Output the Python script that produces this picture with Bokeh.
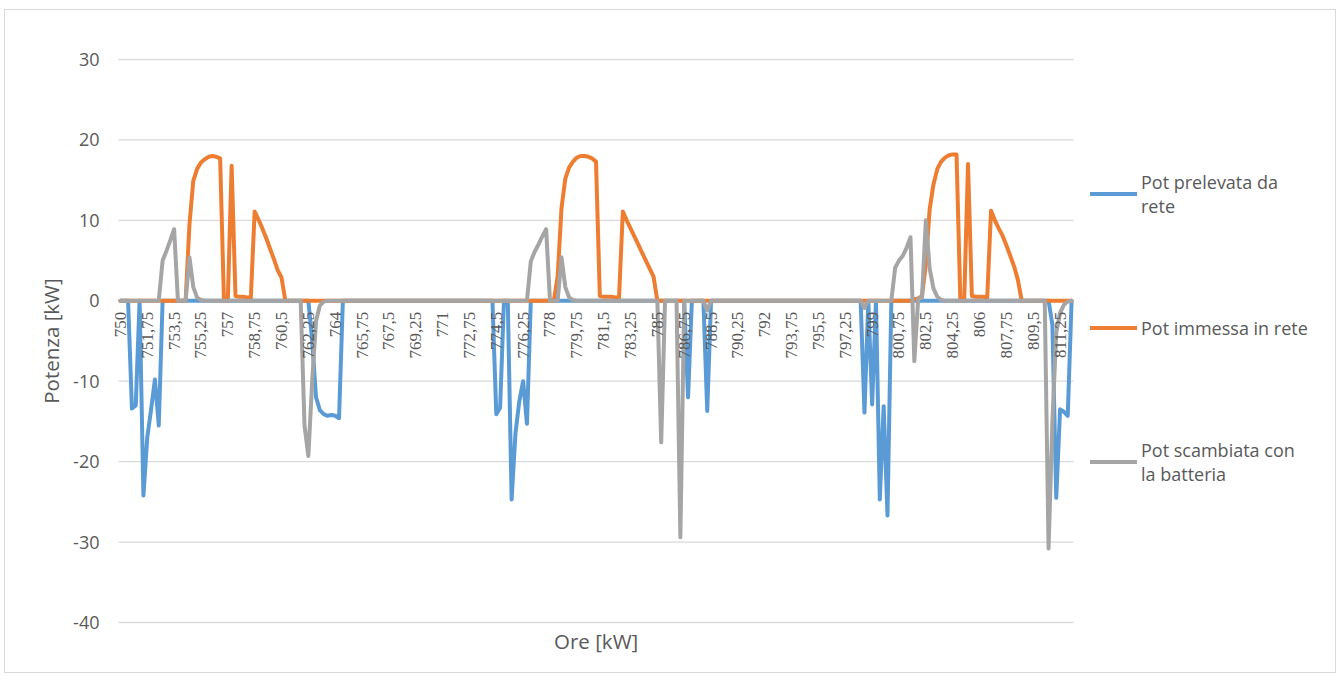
import math
from bokeh.plotting import figure
from bokeh.models import ColumnDataSource, FixedTicker, Range1d, Legend, LegendItem, LabelSet, Title
from bokeh.embed import file_html
from bokeh.resources import INLINE

# ---------------- data ----------------
START_HOUR = 750
STEP = 0.25
N_POINTS = 249
ore = [START_HOUR + STEP * k for k in range(N_POINTS)]  # category axis: 750 ... 812

tick_labels = ["750", "751,75", "753,5", "755,25", "757", "758,75", "760,5", "762,25",
               "764", "765,75", "767,5", "769,25", "771", "772,75", "774,5", "776,25",
               "778", "779,75", "781,5", "783,25", "785", "786,75", "788,5", "790,25",
               "792", "793,75", "795,5", "797,25", "799", "800,75", "802,5", "804,25",
               "806", "807,75", "809,5", "811,25"]
y_ticks = [-40, -30, -20, -10, 0, 10, 20, 30]

series_names = ["Pot prelevata da\nrete", "Pot immessa in rete", "Pot scambiata con\nla batteria"]
x_title = "Ore [kW]"
y_title = "Potenza [kW]"

pot_prelevata = [
    0, 0, 0, -13.4, -13.0, 0, -24.2, -17.0, -13.5, -9.8, -15.5, 0,
    0, 0, 0, 0, 0, 0, 0, 0, 0, 0, 0, 0,
    0, 0, 0, 0, 0, 0, 0, 0, 0, 0, 0, 0,
    0, 0, 0, 0, 0, 0, 0, 0, 0, 0, 0, 0,
    0, 0, -5.0, -12.0, -13.6, -14.1, -14.3, -14.2, -14.3, -14.6, 0, 0,
    0, 0, 0, 0, 0, 0, 0, 0, 0, 0, 0, 0,
    0, 0, 0, 0, 0, 0, 0, 0, 0, 0, 0, 0,
    0, 0, 0, 0, 0, 0, 0, 0, 0, 0, 0, 0,
    0, 0, -14.1, -13.3, 0, 0, -24.7, -16.5, -12.5, -10.0, -15.3, 0,
    0, 0, 0, 0, 0, 0, 0, 0, 0, 0, 0, 0,
    0, 0, 0, 0, 0, 0, 0, 0, 0, 0, 0, 0,
    0, 0, 0, 0, 0, 0, 0, 0, 0, 0, 0, 0,
    0, 0, 0, 0, -12.0, 0, 0, 0, 0, -13.7, 0, 0,
    0, 0, 0, 0, 0, 0, 0, 0, 0, 0, 0, 0,
    0, 0, 0, 0, 0, 0, 0, 0, 0, 0, 0, 0,
    0, 0, 0, 0, 0, 0, 0, 0, 0, 0, 0, 0,
    0, 0, -13.9, 0, -12.9, 0, -24.7, -13.1, -26.7, 0, 0, 0,
    0, 0, 0, 0, 0, 0, 0, 0, 0, 0, 0, 0,
    0, 0, 0, 0, 0, 0, 0, 0, 0, 0, 0, 0,
    0, 0, 0, 0, 0, 0, 0, 0, 0, 0, 0, 0,
    0, 0, 0, -3.0, -24.5, -13.5, -13.8, -14.3, 0,
]

pot_immessa = [
    0, 0, 0, 0, 0, 0, 0, 0, 0, 0, 0, 0,
    0, 0, 0, 0, 0, 0, 9.5, 14.9, 16.4, 17.2, 17.6, 17.9,
    18.0, 17.9, 17.7, 0, 0, 16.8, 0.6, 0.5, 0.5, 0.4, 0.4, 11.1,
    10.1, 9.0, 7.8, 6.5, 5.2, 3.8, 2.9, 0, 0, 0, 0, 0,
    0, 0, 0, 0, 0, 0, 0, 0, 0, 0, 0, 0,
    0, 0, 0, 0, 0, 0, 0, 0, 0, 0, 0, 0,
    0, 0, 0, 0, 0, 0, 0, 0, 0, 0, 0, 0,
    0, 0, 0, 0, 0, 0, 0, 0, 0, 0, 0, 0,
    0, 0, 0, 0, 0, 0, 0, 0, 0, 0, 0, 0,
    0, 0, 0, 0, 0, 0, 3.0, 11.5, 15.2, 16.6, 17.3, 17.8,
    18.0, 18.0, 17.9, 17.7, 17.3, 0.6, 0.5, 0.5, 0.5, 0.4, 0.4, 11.1,
    10.0, 9.0, 8.0, 7.0, 6.0, 5.0, 4.0, 3.0, 0, 0, 0, 0,
    0, 0, 0, 0, 0, 0, 0, 0, 0, 0, 0, 0,
    0, 0, 0, 0, 0, 0, 0, 0, 0, 0, 0, 0,
    0, 0, 0, 0, 0, 0, 0, 0, 0, 0, 0, 0,
    0, 0, 0, 0, 0, 0, 0, 0, 0, 0, 0, 0,
    0, 0, 0, 0, 0, 0, 0, 0, 0, 0, 0, 0,
    0, 0, 0, 0.2, 0.3, 0.6, 4.5, 11.4, 14.5, 16.4, 17.3, 17.8,
    18.1, 18.2, 18.2, 0, 0, 17.0, 0.6, 0.5, 0.5, 0.5, 0.4, 11.2,
    10.0, 9.0, 8.1, 6.9, 5.6, 4.3, 2.6, 0, 0, 0, 0, 0,
    0, 0, 0, 0, 0, 0, 0, 0, 0,
]

pot_scambiata = [
    0, 0, 0, 0, 0, 0, 0, 0, 0, 0, 0, 5.0,
    6.2, 7.5, 8.9, 0, 0, 0, 5.4, 1.7, 0.4, 0.1, 0, 0,
    0, 0, 0, 0, 0, 0, 0, 0, 0, 0, 0, 0,
    0, 0, 0, 0, 0, 0, 0, 0, 0, 0, 0, 0,
    -15.5, -19.3, -10.0, -2.5, -0.6, -0.1, 0, 0, 0, 0, 0, 0,
    0, 0, 0, 0, 0, 0, 0, 0, 0, 0, 0, 0,
    0, 0, 0, 0, 0, 0, 0, 0, 0, 0, 0, 0,
    0, 0, 0, 0, 0, 0, 0, 0, 0, 0, 0, 0,
    0, 0, 0, 0, 0, 0, 0, 0, 0, 0, 0, 4.9,
    6.1, 7.0, 8.0, 8.9, 0, 0, 0, 5.4, 1.7, 0.4, 0.1, 0,
    0, 0, 0, 0, 0, 0, 0, 0, 0, 0, 0, 0,
    0, 0, 0, 0, 0, 0, 0, 0, 0, -17.6, 0, 0,
    0, 0, -29.4, 0, 0, 0, 0, 0, 0, -1.2, 0, 0,
    0, 0, 0, 0, 0, 0, 0, 0, 0, 0, 0, 0,
    0, 0, 0, 0, 0, 0, 0, 0, 0, 0, 0, 0,
    0, 0, 0, 0, 0, 0, 0, 0, 0, 0, 0, 0,
    0, 0, -0.9, 0, 0, 0, 0, 0, 0, 0, 4.1, 5.0,
    5.6, 6.6, 7.9, -7.5, 0.2, 0.4, 10.0, 4.0, 1.5, 0.5, 0.1, 0,
    0, 0, 0, 0, 0, 0, 0, 0, 0, 0, 0, 0,
    0, 0, 0, 0, 0, 0, 0, 0, 0, 0, 0, 0,
    0, 0, -30.8, -15.0, -4.0, -1.5, -0.5, -0.1, 0,
]

# ---------------- layout / styling ----------------
FONT = "Open Sans"
TXT = "#595959"
COLORS = ["#5B9BD5", "#ED7D31", "#A5A5A5"]

W, H = 1330, 662                 # chart area (placed at 5,10 on the page)
DATA_LEFT, TOP = 113, 48         # plotted-area position inside the canvas
EXTRA_L = 8                      # frame starts a little left so the first label is not clipped
LEFT = DATA_LEFT - EXTRA_L
DATA_W, DATA_H = 955, 563        # pixel size of the plotted (gridded) area
PAD = 1                          # px of extra frame above/below so edge gridlines show
FRAME_W = W - LEFT
FRAME_H = DATA_H + 2 * PAD
n = len(ore)
px_per_cat = DATA_W / n
x_start = -0.5 - EXTRA_L / px_per_cat
x_end = x_start + FRAME_W / px_per_cat   # frame extends right to host the legend
y_span = y_ticks[-1] - y_ticks[0]
y_pad = PAD * y_span / DATA_H

idx = list(range(n))
src = ColumnDataSource(dict(x=idx, ore=ore, prel=pot_prelevata, imm=pot_immessa, scamb=pot_scambiata))

p = figure(frame_width=FRAME_W, frame_height=FRAME_H, output_backend="svg", toolbar_location=None,
           x_range=Range1d(x_start, x_end),
           y_range=Range1d(y_ticks[0] - y_pad, y_ticks[-1] + y_pad),
           min_border_left=LEFT, min_border_right=0, min_border_top=TOP,
           min_border_bottom=H - TOP - FRAME_H)
p.title.visible = False
p.outline_line_color = None
p.background_fill_color = "white"
p.border_fill_color = "white"
p.styles = {"outline": "1px solid #d9d9d9", "margin-left": "5px", "margin-top": "10px"}

# horizontal gridlines limited to the plotted area
p.xgrid.visible = False
p.ygrid.visible = False
p.segment(x0=[-0.5] * len(y_ticks), x1=[n - 0.5] * len(y_ticks), y0=y_ticks, y1=y_ticks,
          line_color="#d9d9d9", line_width=1.3)

p.yaxis.ticker = FixedTicker(ticks=y_ticks)
p.yaxis.major_label_overrides = {v: str(v) for v in y_ticks}
p.yaxis.axis_line_color = None
p.yaxis.major_tick_line_color = None
p.yaxis.minor_tick_line_color = None
p.yaxis.major_tick_out = 0
p.yaxis.major_tick_in = 0
p.yaxis.major_label_standoff = 19 - EXTRA_L
p.yaxis.major_label_text_font = FONT
p.yaxis.major_label_text_font_size = "18px"
p.yaxis.major_label_text_color = TXT
p.yaxis.axis_label = y_title
p.yaxis.axis_label_text_font = FONT
p.yaxis.axis_label_text_font_size = "20.5px"
p.yaxis.axis_label_text_font_style = "normal"
p.yaxis.axis_label_text_color = TXT
p.yaxis.axis_label_standoff = 5

p.xaxis.visible = False

# x-axis title centred under the plotted area
x_title_w = 84
p.add_layout(Title(text=x_title, align="left",
                   offset=EXTRA_L + DATA_W / 2 - x_title_w / 2,
                   text_font=FONT, text_font_size="20.5px", text_font_style="normal",
                   text_color=TXT, standoff=3), "below")

renderers = []
for col, color in zip(["prel", "imm", "scamb"], COLORS):
    r = p.line("x", col, source=src, line_color=color, line_width=4,
               line_join="round", line_cap="round")
    renderers.append(r)

# category labels drawn along the zero line (Excel-style axis crossing at 0)
tick_pos = [(float(t.replace(",", ".")) - START_HOUR) / STEP for t in tick_labels]
tsrc = ColumnDataSource(dict(x=tick_pos, y=[0] * len(tick_labels), t=tick_labels))
labels = LabelSet(x="x", y="y", text="t", source=tsrc, angle=math.pi / 2, text_align="right",
                  text_baseline="middle", y_offset=-11, text_font=FONT,
                  text_font_size="17px", text_color=TXT)
p.add_layout(labels)

legend = Legend(items=[LegendItem(label=nm, renderers=[r]) for nm, r in zip(series_names, renderers)],
                location=(EXTRA_L + 1090 - 118, 136), orientation="vertical",
                glyph_width=47, glyph_height=51,
                label_standoff=4, spacing=83, padding=0, margin=0,
                border_line_color=None, background_fill_alpha=0,
                label_text_font=FONT, label_text_font_size="18px", label_text_color=TXT,
                label_text_line_height=25.5 / 18)
p.add_layout(legend)

open("out.html", "w").write(file_html(p, INLINE))
